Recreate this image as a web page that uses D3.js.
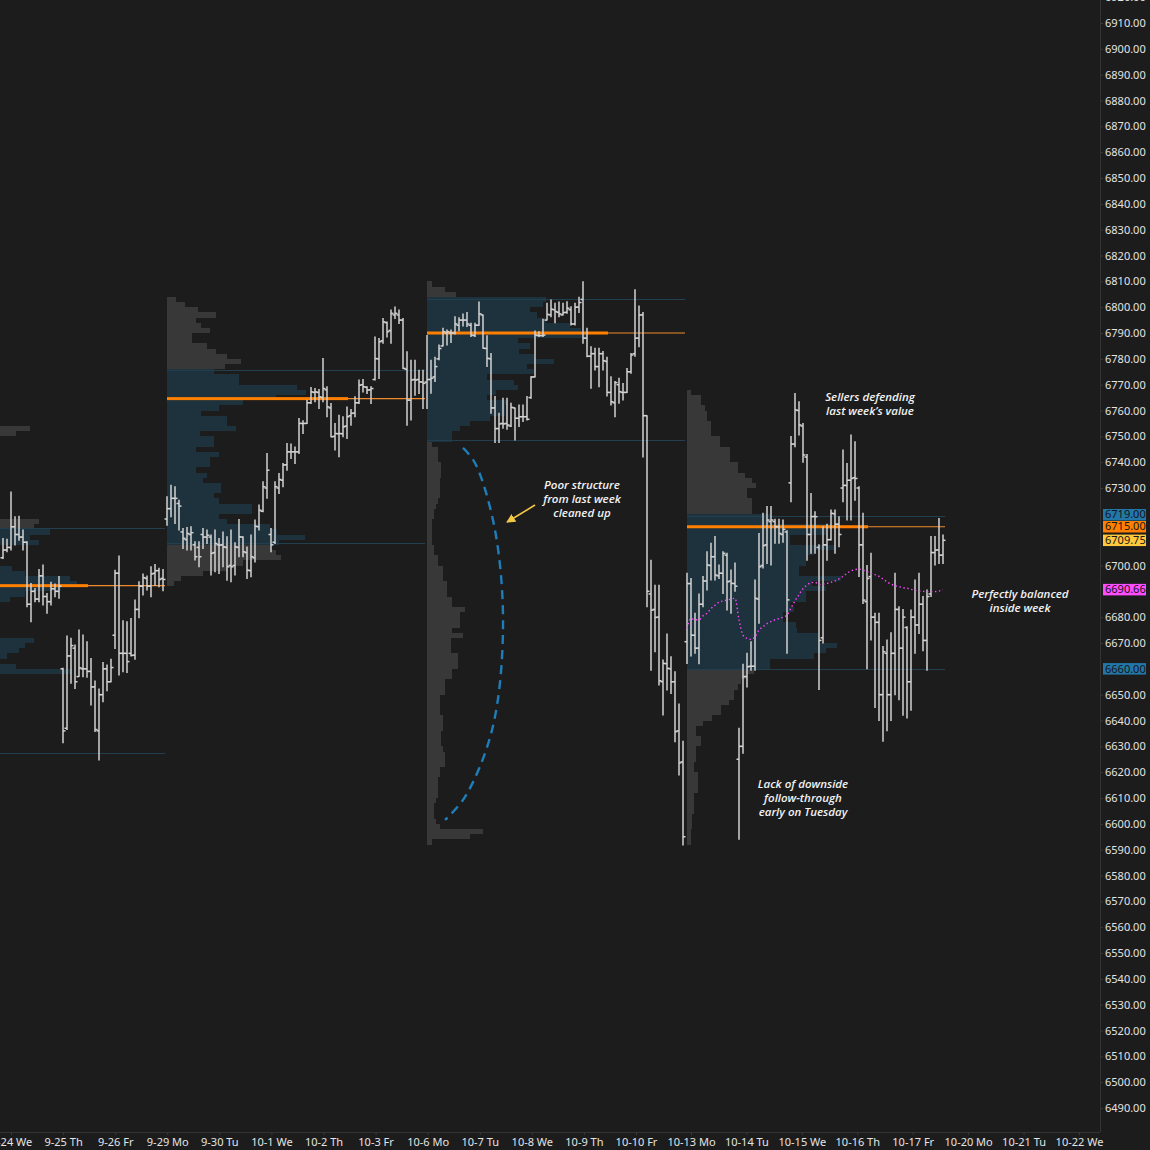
<!DOCTYPE html>
<html><head><meta charset="utf-8">
<script src="https://cdn.jsdelivr.net/npm/d3@7/dist/d3.min.js"></script>
<style>
html,body{margin:0;padding:0;background:#1c1c1c;overflow:hidden}
svg{display:block}
</style></head>
<body>
<svg id="chart" width="1150" height="1150"></svg>
<script>
// ---------------- DATA ----------------
// 30-minute RTH bars [open, high, low, close]
const week0922Bars = [
[6703,6710.5,6702.7,6706],[6706,6710.2,6705.3,6707],[6707,6728.5,6706,6715],[6715,6718.9,6707.9,6712],
[6712,6719.1,6709.8,6711],[6711,6713.7,6706,6709],[6709,6709.2,6684,6685],[6685,6693,6678.2,6690],
[6690,6691.1,6686,6687],[6687,6698.5,6686,6696],[6696,6700.2,6684.7,6688],[6688,6689.2,6681.5,6686],
[6686,6693.5,6684.7,6691],[6691,6692.8,6687.9,6690],[6690,6695.7,6687.3,6692],
[6660,6660.2,6631.4,6636],[6637,6672.7,6636.5,6665],[6665,6671.8,6654.4,6669],[6668,6669.2,6652.4,6655],
[6657,6675,6657,6660.4],[6660,6673.1,6656.9,6660],[6660,6670.5,6656.7,6659],[6659,6664,6646,6653],
[6653,6655.3,6635.7,6636.5],[6636,6652.2,6624.7,6650],[6650,6662.5,6647.3,6660],[6660,6661.5,6651.5,6655],
[6655,6663.7,6655,6660.5],
[6673,6698.2,6667.9,6697],[6697,6703.7,6657.6,6666],[6666,6678.6,6658.9,6666],[6666,6678.2,6658.6,6662.8],
[6666,6679.5,6665,6665.2],[6665.3,6686.6,6663.7,6683],[6683,6693.7,6679.8,6692],[6692,6696.7,6688.6,6695.3],
[6695,6695.9,6690.5,6692],[6692,6699.5,6687.9,6696.7],[6697,6700.4,6692.4,6698],[6698,6698.9,6691.8,6694.6],
[6695,6698.5,6690.2,6694.6]
];
const week0929Bars = [
[6718,6726.6,6715.6,6722],[6722,6731.1,6718.9,6726],[6726,6730.5,6716.3,6726],[6724,6725.3,6713.7,6723],
[6713,6714.3,6706.6,6710.5],[6710,6714.7,6706,6712.4],[6712,6715,6706,6712.7],[6708,6709.2,6702.1,6703.4],
[6707,6709.2,6699.5,6703.4],[6712,6714.3,6706.6,6711],[6711,6713.7,6708.5,6711.7],[6711,6711.8,6696.3,6704.7],
[6705,6713.7,6697.6,6708.5],
[6708,6710.5,6696.9,6707.9],[6708,6713,6699.5,6707.2],[6707,6711.1,6694.3,6699.5],[6700,6713.7,6693.7,6699.5],
[6700,6708.8,6696.3,6707.2],[6707,6717.8,6703.4,6711.1],[6711,6711.1,6703.4,6705.3],[6705,6707.2,6695,6698.2],
[6698,6711.8,6695.6,6703.4],[6703,6717.6,6701.4,6715.2],[6715,6723.4,6713.7,6721.4],[6721,6732.4,6720.8,6730.5],
[6730,6743.4,6726,6736.9],
[6712,6714.3,6705.3,6708],[6709,6732.4,6708.5,6730.5],[6730,6735.6,6727.9,6733.3],[6733,6739.5,6730.5,6738.9],
[6739,6747.2,6736.9,6744],[6744,6747,6741.4,6744],[6744,6745.9,6739.5,6744],[6744,6756.9,6743.4,6755],
[6755,6756,6751.1,6755],[6755,6764,6755,6763],[6763,6768.9,6762.7,6767.2],[6767,6768.5,6763.4,6767.2],
[6767,6768.1,6760.8,6765.3],
[6765,6780.1,6763.4,6768.5],[6768,6769.2,6757.6,6761.4],[6761,6762.7,6749.8,6749.8],[6750,6755,6744.7,6751.1],
[6751,6758.2,6742.1,6751.1],[6751,6757.6,6749.8,6753.7],[6754,6761.4,6749.2,6757.6],[6758,6760.4,6754.3,6758.9],
[6759,6765.3,6757.6,6763],[6763,6771.8,6762.7,6769.8],[6770,6772,6767.2,6769.2],[6769,6769.2,6766.6,6767.9],
[6768,6769.2,6762.7,6768.5],
[6772,6788.5,6771.8,6780.1],[6780,6787.9,6772.4,6786.6],[6787,6795.6,6786,6794.3],[6794,6794.3,6788.5,6790.5],
[6791,6798.9,6786,6797.6],[6797,6800.1,6795.6,6797.6],[6797,6798.9,6793.7,6795],[6795,6795.6,6776.3,6776.3],
[6776,6782.7,6754.3,6764],[6764,6779.5,6756.3,6771.8],[6772,6779.5,6765.9,6771.8],[6772,6775.6,6766.6,6771.1],
[6771,6775.6,6760.8,6770.5]
];
const week1006Bars = [
[6771,6789,6760.8,6772],[6772,6779.5,6766.7,6772.5],[6773,6780.6,6771.2,6777],[6780,6785.4,6779.6,6784],
[6785,6791.8,6785,6790.5],[6790,6791.2,6785.4,6790.5],[6790,6791.2,6786.3,6790],[6790,6796.3,6789.6,6793.5],
[6793,6795.9,6790.9,6795],[6795,6797.4,6792.7,6795],[6795,6797.9,6792.5,6793.5],[6793,6793.8,6788.6,6789.2],
[6789,6793.8,6788.6,6793],
[6793,6802,6793,6797.4],[6797,6797,6784.1,6784.1],[6784,6788.9,6777,6780.2],[6780,6782.1,6758.9,6761],
[6761,6765.4,6747.6,6753],[6753,6758.9,6747.6,6754.8],[6755,6764.7,6753.1,6754.8],[6755,6764.7,6752.7,6754.4],
[6754,6762.8,6753.8,6761.2],[6761,6761,6748.6,6757],[6757,6762.1,6753.8,6757.6],[6757.6,6762.1,6755.7,6757.6],
[6757.6,6765.4,6756.3,6756.6],
[6765,6773.1,6764.7,6773],[6773,6790.8,6773,6789.2],[6789,6790.5,6788.6,6789],[6789,6795.3,6788.6,6789.2],
[6795,6801.5,6795,6797.2],[6797,6802.8,6796.3,6799.2],[6799,6801.5,6794,6798.3],[6798,6802,6796.3,6797.4],
[6797,6801.5,6797,6797.9],[6798,6802.1,6797.6,6799.6],[6799,6800.2,6793.1,6793.5],[6793.5,6801.5,6793.1,6800],
[6800,6803.8,6797.9,6801.8],
[6803,6809.8,6786,6788],[6788,6791.8,6780.8,6781],[6781,6784.7,6768.6,6782],[6782,6784.1,6775.7,6777],
[6777,6784.1,6769.2,6782],[6782,6782.8,6775.7,6779.3],[6779,6780.6,6765.6,6767],[6767,6773.1,6762.1,6763.4],
[6763,6771.2,6757.6,6770.8],[6770,6772.5,6762.8,6767.3],[6767,6770.5,6764.1,6767],[6767,6776.3,6767,6775],
[6775,6782.1,6774.4,6781.5],
[6782,6806.7,6781,6788],[6788,6800.5,6784.7,6797],[6797,6797.9,6742,6758],[6758,6758,6684,6690],
[6689,6702,6659.5,6682.7],[6683,6692.4,6666.6,6679.9],[6680,6692.4,6653.7,6655.4],[6655,6663.4,6642.1,6662.1],
[6662,6673.5,6651.8,6660.2],[6660,6664.7,6650.5,6655],[6655,6658.9,6631.8,6635.7],[6636,6646.4,6618.9,6623.6],
[6624,6632,6591.8,6595]
];
const week1013Bars = [
[6670.5,6697,6662.1,6693],[6693,6695,6665,6673],[6673,6681.5,6666,6668],[6668,6689,6662,6685],
[6685,6695.7,6684,6694],[6694,6705.3,6690.5,6700.2],[6700,6708.6,6694.4,6703.4],[6703.4,6711.2,6694.4,6696.3],
[6696,6700.2,6695,6697],[6697,6705.3,6689.2,6704.7],[6704,6704.7,6682.8,6693.7],[6694,6698.3,6681.5,6693.1],
[6693,6701,6690,6692],
[6625,6637,6594,6630],[6630,6661.8,6627.3,6657],[6657,6666,6653,6660.8],[6661,6670.5,6659.5,6661],
[6661,6694.4,6659.5,6687.3],[6687,6712.4,6677.6,6699.5],[6700,6720.2,6699,6707.7],[6708,6722.8,6700.8,6717.6],
[6717,6722.8,6700.2,6717.6],[6717,6717.9,6708.6,6715],[6715,6717.9,6708.6,6712.4],[6712,6717.6,6709,6714],
[6713,6713.5,6666,6686.7],
[6732,6749.9,6724.7,6747],[6747,6766.6,6746,6760.2],[6760,6763.4,6750.5,6754.4],[6754,6755,6740,6742.8],
[6742,6743,6702,6712],[6712,6727.9,6704.7,6718.9],[6719,6720.8,6704.7,6718.9],[6707,6708,6652,6671],
[6672,6715,6670,6708],[6708,6716,6702,6710],[6710,6721.5,6709.9,6720.2],[6720,6721.5,6704.7,6716],
[6716,6718.9,6707.3,6712],
[6730,6744.7,6724.7,6731],[6731,6739.5,6717.6,6733],[6733,6750.5,6717.6,6733.7],[6734,6747.9,6725.3,6733.7],
[6730,6730.5,6695.7,6708],[6708,6720.2,6685.3,6686.6],[6686,6700,6660,6695],[6695.7,6704.7,6671.2,6680],
[6680,6681.5,6645,6678],[6678,6681.5,6640,6650],[6650,6668.6,6632,6666.6],[6666,6671.2,6636,6650],
[6650,6674,6640,6666],
[6666,6697,6650,6683],[6683,6684,6648,6668],[6668,6683,6642,6680],[6676,6676.3,6641,6655],
[6655,6682.8,6644,6680],[6680,6694.4,6666,6677],[6677,6697,6673.7,6685],[6685,6688,6667,6671],
[6671,6690.5,6659.5,6688],[6689,6711.2,6688,6705],[6705,6711.2,6700.2,6706],[6706,6718.2,6700.8,6704],
[6704,6711.8,6700.8,6709.75]
];
// Weekly VWAP (week of 10-13), one value per bar
const vwap1013 = [
6675.7,6679.5,6679,6679,6680.5,6681.5,6683.3,6684.6,6685.8,6686.3,
6686.6,6687,6687.3,6679,6673,6671.8,6671.4,6672.4,6675,6676.3,
6677.5,6678.3,6679,6679.5,6680,6680.8,6683.5,6686.3,6688.7,6691,
6692.4,6693.3,6693.5,6692.6,6692.8,6693.1,6693.5,6694,6694.8,6695.8,
6697,6697.9,6698.4,6698.6,6698.2,6697.6,6697,6696.5,6695.8,6694.8,
6693.7,6692.8,6692.2,6691.8,6691.4,6691.2,6690.8,6690.4,6690.1,6690,
6689.9,6689.9,6689.9,6690.1,6690.7];

// Weekly volume profiles: relative volume per 2-point row, starting at the low price
const prof0922Low = 6626;
const prof0922 = [20,25,30,30,35,35,35,40,40,38, 40,42,40,42,45,45,91,60,50,55,
 62,65,70,48,45,40,42,45,45,48, 57,65,85,94,90,65,58,48,45,45,
 48,73,68,79,70,73,45,40,38,36, 35,30,30,28,28,25,25,22,20,20, 18,18,60,68,30];
const prof0929Low = 6692;
const prof0929 = [4,8,20,33,42,63,60,57,62,76, 61,57,33,29,47,47,29,26,30,30,
 20,22,16,24,24,29,16,26,26,18, 38,33,33,19,29,42,60,77,72,40,
 40,26,32,41,33,27,22,14,14,24, 19,16,27,17,10,5];
const prof1006Low = 6592;
const prof1006 = [3,24,31,7,5,4,4,4,5,6, 6,6,6,7,7,10,10,10,9,8,
 8,8,9,9,9,7,7,7,7,10, 10,10,14,14,17,17,17,13,13,13,
 20,14,18,18,18,21,14,14,11,11, 11,9,9,9,6,6,4,4,3,3,
 3,3,3,4,4,5,6,7,7,7, 7,8,8,8,6,6,6,3,14,14,
 18,24,35,43,43,45,33,38,50,48, 33,59,55,70,59,51,57,50,88,85,
 79,66,61,57,64,66,16,10,3];
const prof1013Low = 6592;
const prof1013 = [2,2,2,3,3,3,4,4,4,4, 6,6,6,6,4,4,5,5,5,8,
 8,5,5,9,14,19,19,23,26,26, 28,30,33,37,46,46,70,77,83,73,
 73,61,60,53,53,59,57,66,66,77, 69,85,62,62,66,66,70,82,57,57,
 77,80,46,46,36,36,36,33,33,38, 36,32,28,28,24,24,24,18,18,13,
 13,13,11,11,10,8,8,2];

// Week structure, value areas and points of control
const weekStartBar = [-24, 41, 106, 171];
const weekEndBar   = [40, 105, 170, 235];
const weekVAH = [6714.5, 6775.6, 6803, 6719];
const weekVAL = [6627.5, 6708.7, 6748.6, 6660];
const weekPOC = [6692.2, 6764.6, 6790, 6715];

// Axis labels
const dayLabels = ["9-24 We","9-25 Th","9-26 Fr","9-29 Mo","9-30 Tu","10-1 We","10-2 Th","10-3 Fr",
 "10-6 Mo","10-7 Tu","10-8 We","10-9 Th","10-10 Fr","10-13 Mo","10-14 Tu","10-15 We","10-16 Th",
 "10-17 Fr","10-20 Mo","10-21 Tu","10-22 We"];
const priceTicks = d3.range(6490, 6921, 10);
const markerValues = [6719, 6715, 6709.75, 6690.66, 6660];
const markerKinds  = ["va", "poc", "last", "vwap", "va"];

// Annotations (bar index, price)
const notes = [
 {lines:["Sellers defending","last week\u2019s value"], i:216.75, p:6763.7},
 {lines:["Poor structure","from last week","cleaned up"], i:144.75, p:6729.6},
 {lines:["Perfectly balanced","inside week"], i:254.25, p:6687.4},
 {lines:["Lack of downside","follow-through","early on Tuesday"], i:200, p:6613.9}
];
const arcPoints = [[115,6745.5],[118,6739.7],[123,6713.7],[125,6675],[122.25,6636.3],[115.5,6610.4],[110.5,6601.5]];
const arrowPoints = [[133,6723.4],[126,6716.8]];

// ---------------- DRAW ----------------
const bars = [].concat(week0922Bars, week0929Bars, week1006Bars, week1013Bars);
const profiles = [
 {low:prof0922Low, vals:prof0922},{low:prof0929Low, vals:prof0929},
 {low:prof1006Low, vals:prof1006},{low:prof1013Low, vals:prof1013}];

const BG = "#1c1c1c";
const plotW = 1100, plotH = 1132;
const svg = d3.select("#chart");
svg.append("rect").attr("width",1150).attr("height",1150).attr("fill",BG);

const x = d3.scaleLinear().domain([0,235]).range([3,943]);
const y = d3.scaleLinear().domain([6490,6910]).range([1108,23]);
const pw = d3.scaleLinear().domain([0,100]).range([0,181]);
const lx = d3.scaleLinear().domain([0,12,13,20]).range([11,636,691,1079]);

const defs = svg.append("defs");
defs.append("clipPath").attr("id","plot").append("rect").attr("width",plotW).attr("height",plotH);
defs.append("marker").attr("id","ah").attr("viewBox","0 0 10 10").attr("refX",9).attr("refY",5)
 .attr("markerWidth",9).attr("markerHeight",9).attr("markerUnits","userSpaceOnUse").attr("orient","auto")
 .append("path").attr("d","M0,0 L10,5 L0,10 z").attr("fill","#f2c744");

const g = svg.append("g").attr("clip-path","url(#plot)");

// profiles
profiles.forEach((pr, k) => {
  const x0 = x(weekStartBar[k]);
  const rows = pr.vals.map((v, j) => ({p: pr.low + 2*j, v}));
  g.append("g").attr("shape-rendering","crispEdges").selectAll("rect").data(rows).join("rect")
    .attr("x", x0).attr("y", d => y(d.p + 2)).attr("height", d => y(d.p) - y(d.p + 2))
    .attr("width", d => pw(d.v))
    .attr("fill", d => (d.p + 1 >= weekVAL[k] && d.p + 1 <= weekVAH[k]) ? "#1e323e" : "#383838");
});
// VA lines and POC
profiles.forEach((pr, k) => {
  const x0 = x(weekStartBar[k]), x1 = x(weekEndBar[k]) + 2;
  [weekVAH[k], weekVAL[k]].forEach(v => {
    g.append("line").attr("x1",x0).attr("x2",x1).attr("y1",Math.round(y(v))+0.5).attr("y2",Math.round(y(v))+0.5)
     .attr("stroke","#223f50").attr("stroke-width",1);
  });
  const py = y(weekPOC[k]);
  g.append("rect").attr("x",x0).attr("y",py-1.5).attr("width",pw(100)).attr("height",3).attr("fill","#ff8000");
  g.append("line").attr("x1",x0+pw(100)).attr("x2",x1).attr("y1",py).attr("y2",py)
   .attr("stroke","#f08a2a").attr("stroke-width",1.1);
});

// OHLC bars
const bg = g.append("g").attr("stroke","#d2d2d2").attr("stroke-width",1.5);
bars.forEach((b, i) => {
  const cx = x(i);
  bg.append("line").attr("x1",cx).attr("x2",cx).attr("y1",y(b[1])-0.5).attr("y2",y(b[2])+0.5);
  bg.append("line").attr("x1",cx-2.5).attr("x2",cx).attr("y1",y(b[0])).attr("y2",y(b[0]));
  bg.append("line").attr("x1",cx).attr("x2",cx+2.5).attr("y1",y(b[3])).attr("y2",y(b[3]));
});

// VWAP
const vw = vwap1013.map((v, j) => [weekStartBar[3] + j, v]);
g.append("path").datum(vw)
 .attr("d", d3.line().x(d => x(d[0])).y(d => y(d[1])).curve(d3.curveMonotoneX))
 .attr("fill","none").attr("stroke","#ff45ff").attr("stroke-width",1.4).attr("stroke-dasharray","1.4,2.6");

// dashed arc
g.append("path").datum(arcPoints)
 .attr("d", d3.line().x(d => x(d[0])).y(d => y(d[1])).curve(d3.curveCatmullRom.alpha(0.5)))
 .attr("fill","none").attr("stroke","#1f7db8").attr("stroke-width",2.4).attr("stroke-dasharray","9,6");

// arrow
g.append("line").attr("x1",x(arrowPoints[0][0])).attr("y1",y(arrowPoints[0][1]))
 .attr("x2",x(arrowPoints[1][0])).attr("y2",y(arrowPoints[1][1]))
 .attr("stroke","#f2c744").attr("stroke-width",1.6).attr("marker-end","url(#ah)");

// notes
notes.forEach(n => {
  const t = g.append("text").attr("text-anchor","middle").attr("fill","#f2f2f2")
    .attr("font-family","'Open Sans', 'Noto Sans', sans-serif").attr("font-style","italic")
    .attr("font-weight",600).attr("font-size","11.5px");
  n.lines.forEach((s, j) => t.append("tspan").attr("x", x(n.i)).attr("y", y(n.p) + j*14).text(s));
});

// axes
svg.append("line").attr("x1",plotW+0.5).attr("x2",plotW+0.5).attr("y1",0).attr("y2",plotH).attr("stroke","#333");
svg.append("line").attr("x1",0).attr("x2",plotW).attr("y1",plotH+0.5).attr("y2",plotH+0.5).attr("stroke","#333");

// price markers: stack boxes upward so they do not overlap
const boxH = 11.5;
const boxes = markerValues.map((v, k) => ({v, kind: markerKinds[k], cy: y(v)}))
  .sort((a, b) => b.cy - a.cy);
for (let k = 1; k < boxes.length; k++) {
  const below = boxes[k-1];
  if (boxes[k].cy + boxH/2 > below.cy - boxH/2 - 0.5) boxes[k].cy = below.cy - boxH - 0.5;
}

const ya = svg.append("g").attr("transform",`translate(${plotW},0)`)
 .call(d3.axisRight(y).tickValues(priceTicks.filter(t => !boxes.some(b => Math.abs(y(t) - b.cy) < 9)))
   .tickFormat(d3.format(".2f")).tickSize(3).tickPadding(2));
ya.select(".domain").remove();
ya.selectAll(".tick line").attr("stroke","#3a3a3a");
ya.selectAll(".tick text").attr("fill","#e4e4e4").attr("font-family","'Noto Sans', sans-serif").attr("font-size","11px");

const xa = svg.append("g").attr("transform",`translate(0,${plotH})`)
 .call(d3.axisBottom(lx).tickValues(d3.range(dayLabels.length)).tickFormat(i => dayLabels[i]).tickSize(3).tickPadding(3));
xa.select(".domain").remove();
xa.selectAll(".tick line").attr("stroke","#3a3a3a");
xa.selectAll(".tick text").attr("fill","#e4e4e4").attr("font-family","'Noto Sans', sans-serif").attr("font-size","11px");

const markerFill = {va:"#2377a8", poc:"#ff8000", last:"#ffc83d", vwap:"#ff4dff"};
boxes.forEach(b => {
  svg.append("rect").attr("x",plotW+3).attr("y",b.cy-boxH/2).attr("width",43).attr("height",boxH)
    .attr("fill",markerFill[b.kind]);
  svg.append("text").attr("x",plotW+5).attr("y",b.cy).attr("dy","0.34em").attr("fill","#151515")
    .attr("font-family","'Noto Sans', sans-serif").attr("font-size","11px").text(d3.format(".2f")(b.v));
});
</script>
</body></html>
